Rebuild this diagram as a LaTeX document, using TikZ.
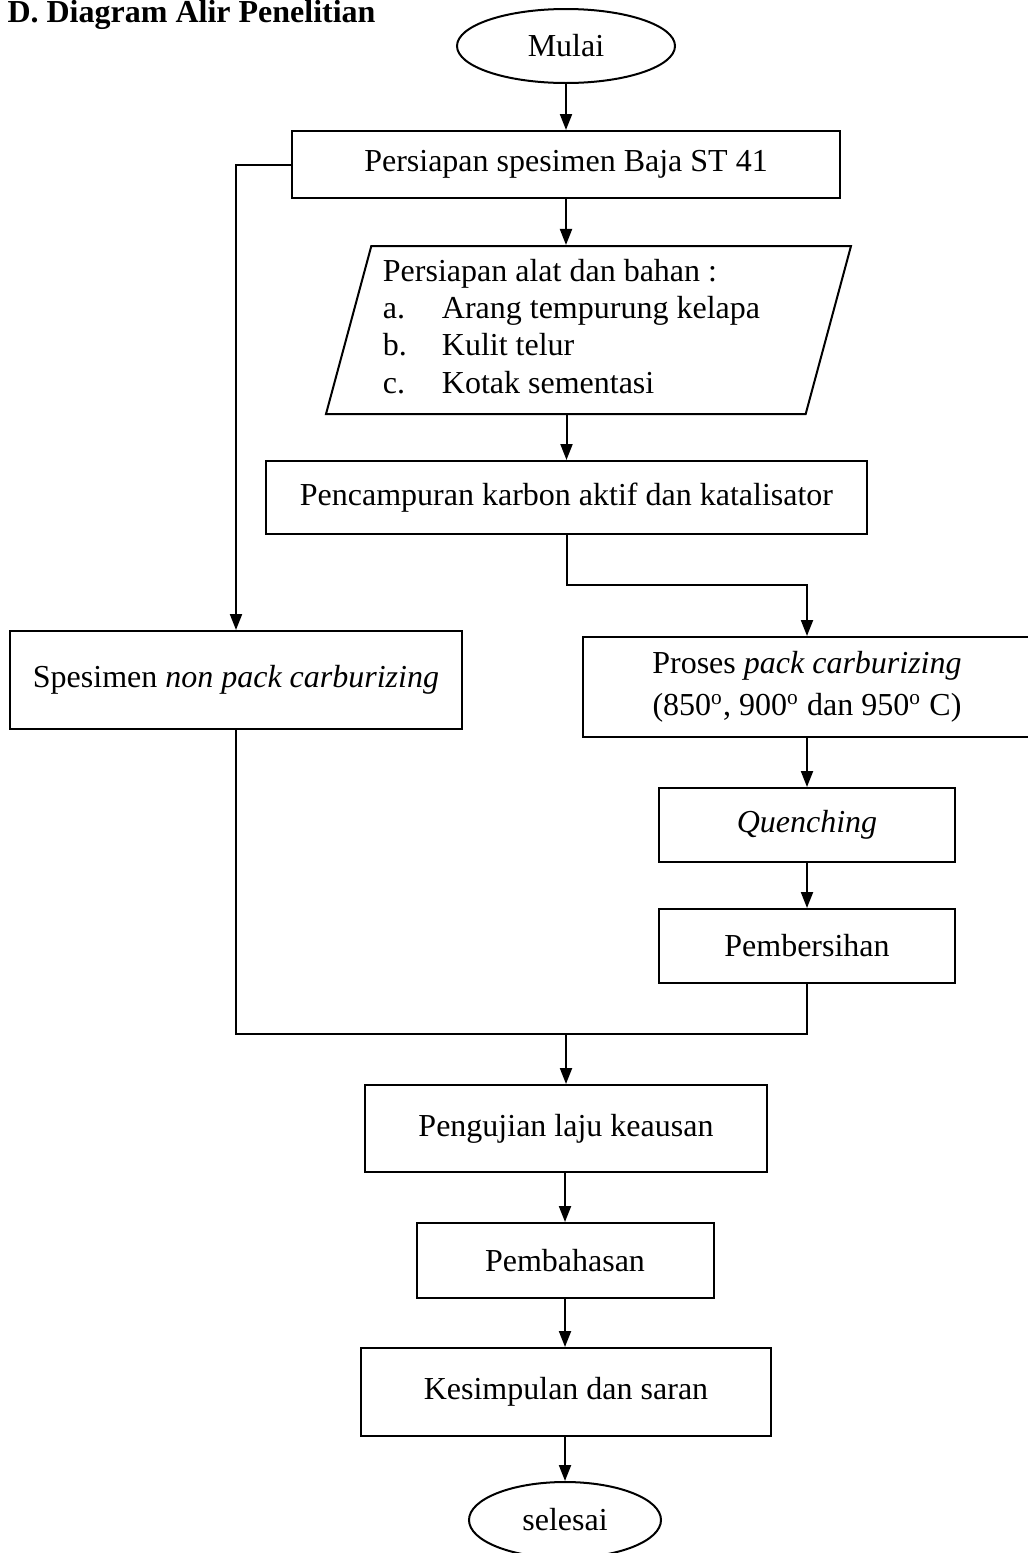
\documentclass[tikz,border=0pt]{standalone}
\usepackage{fontspec}
\setmainfont{Liberation Serif}
\usetikzlibrary{shapes.geometric,arrows.meta}

\newlength{\du}
\setlength{\du}{0.375pt}

\tikzset{
  box/.style={draw, rectangle, line width=0.75pt, align=center, inner sep=0pt},
  terminal/.style={draw, ellipse, line width=0.75pt, inner sep=0pt},
  datain/.style={draw, trapezium, trapezium left angle=73, trapezium right angle=107,
    trapezium stretches body, line width=0.75pt, inner sep=0pt},
  arr/.style={-{Triangle[length=6pt,width=4.5pt]}, line width=0.75pt},
  link/.style={line width=0.75pt}
}

\begin{document}
\begin{tikzpicture}[x=\du, y=-\du, font=\fontsize{12pt}{13.9pt}\selectfont]
\useasboundingbox (0,0) rectangle (1027,1553);
% judul
\node[anchor=base west, inner sep=0pt] (judul) at (7,22) {\textbf{D. Diagram Alir Penelitian}};
% alur utama
\node[terminal, minimum width=218\du, minimum height=74\du] (mulai) at (566,46) {Mulai};
\node[box, minimum width=548\du, minimum height=67\du] (persiapan) at (566,164.5) {Persiapan spesimen Baja ST 41};
\node[datain, minimum width=525\du, minimum height=168\du] (alat) at (588.5,330) {%
\begin{tabular}{@{}p{59\du}@{}l@{}}
\multicolumn{2}{@{}l@{}}{Persiapan alat dan bahan :}\\
a. & Arang tempurung kelapa\\
b. & Kulit telur\\
c. & Kotak sementasi
\end{tabular}\hspace*{34\du}};
\node[box, minimum width=601\du, minimum height=73\du] (pencampuran) at (566.5,497.5) {Pencampuran karbon aktif dan katalisator};
% cabang kiri
\node[box, minimum width=452\du, minimum height=98\du] (spesimen) at (236,680) {Spesimen \textit{non pack carburizing}};
% cabang kanan
\node[box, minimum width=448\du, minimum height=100\du] (proses) at (807,687) {\raisebox{-4\du}{Proses \textit{pack carburizing}}\\[2pt]
\raisebox{-4\du}{(850\textsuperscript{o}, 900\textsuperscript{o} dan 950\textsuperscript{o} C)}};
\node[box, minimum width=296\du, minimum height=74\du] (quenching) at (807,825) {\textit{Quenching}};
\node[box, minimum width=296\du, minimum height=74\du] (pembersihan) at (807,946) {Pembersihan};
% penutup
\coordinate (gabung) at (566,1034);
\node[box, minimum width=402\du, minimum height=87\du] (pengujian) at (566,1128.5) {Pengujian laju keausan};
\node[box, minimum width=297\du, minimum height=75\du] (pembahasan) at (565,1260.5) {Pembahasan};
\node[box, minimum width=410\du, minimum height=88\du] (kesimpulan) at (566,1392) {Kesimpulan dan saran};
\node[terminal, minimum width=192\du, minimum height=76\du] (selesai) at (565,1520) {selesai};

% panah
\draw[arr] (mulai.south) -- (mulai.south |- persiapan.north);
\draw[arr] (persiapan.south) -- (persiapan.south |- alat.north);
\draw[arr] (pencampuran.north |- alat.south) -- (pencampuran.north);
\draw[arr] (pencampuran.south) -- ++(0,50) -| (proses.north);
\draw[arr] (persiapan.west) -| (spesimen.north);
\draw[arr] (proses) -- (quenching);
\draw[arr] (quenching) -- (pembersihan);
\draw[link] (spesimen.south) |- (gabung) -| (pembersihan.south);
\draw[arr] (gabung) -- (gabung |- pengujian.north);
\draw[arr] (pembahasan.north |- pengujian.south) -- (pembahasan.north);
\draw[arr] (pembahasan.south) -- (pembahasan.south |- kesimpulan.north);
\draw[arr] (selesai.north |- kesimpulan.south) -- (selesai.north);
\end{tikzpicture}
\end{document}
